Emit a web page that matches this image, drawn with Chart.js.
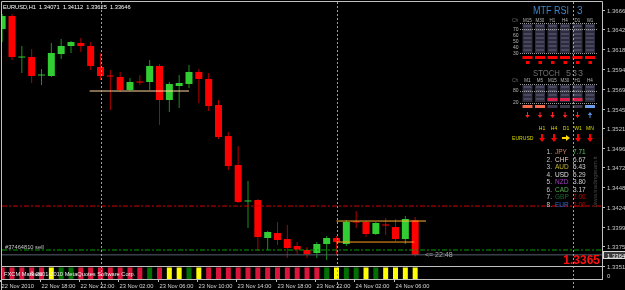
<!DOCTYPE html>
<html>
<head>
<meta charset="utf-8">
<script src="https://cdn.jsdelivr.net/npm/chart.js@4.4.0/dist/chart.umd.min.js"></script>
<style>
  html, body { margin: 0; padding: 0; background: #000; }
  #wrap { position: relative; width: 625px; height: 290px; }
</style>
</head>
<body>
<div id="wrap"><canvas id="chart"></canvas></div>
<script>
// EURUSD H1, bar 0 = 22 Nov 2010 14:00
const opens = [1.36431, 1.36591, 1.36079, 1.36085, 1.35857, 1.35851, 1.36122, 1.36221, 1.36258, 1.36221,
  1.35962, 1.35857, 1.35839, 1.35679, 1.35783, 1.35777, 1.35975, 1.35555, 1.35728, 1.35753,
  1.35901, 1.35814, 1.35494, 1.35111, 1.34754, 1.34304, 1.34322, 1.33854, 1.33915, 1.33841,
  1.33755, 1.33706, 1.33669, 1.33780, 1.33854, 1.33780, 1.34057, 1.34051, 1.33903, 1.34020,
  1.33989, 1.33841, 1.34071];
const highs = [1.36616, 1.36616, 1.36221, 1.36184, 1.35938, 1.36258, 1.36307, 1.36283, 1.36320, 1.36270,
  1.36135, 1.35925, 1.35901, 1.35827, 1.35864, 1.36049, 1.36000, 1.35777, 1.35864, 1.35987,
  1.35938, 1.35888, 1.35555, 1.35161, 1.34988, 1.34557, 1.34335, 1.33940, 1.34051, 1.34014,
  1.33804, 1.33743, 1.33804, 1.33878, 1.33878, 1.34076, 1.34187, 1.34063, 1.34051, 1.34100,
  1.34088, 1.34125, 1.34112];
const lows = [1.36270, 1.36048, 1.35888, 1.35765, 1.35740, 1.35839, 1.36061, 1.36135, 1.36147, 1.35925,
  1.35802, 1.35432, 1.35654, 1.35666, 1.35740, 1.35679, 1.35247, 1.35407, 1.35457, 1.35703,
  1.35518, 1.35420, 1.35074, 1.34692, 1.34285, 1.33977, 1.33693, 1.33706, 1.33767, 1.33607,
  1.33656, 1.33607, 1.33607, 1.33583, 1.33644, 1.33755, 1.33977, 1.33866, 1.33891, 1.33891,
  1.33817, 1.33780, 1.33625];
const closes = [1.36591, 1.36085, 1.36085, 1.35851, 1.35864, 1.36135, 1.36221, 1.36270, 1.36221, 1.35975,
  1.35851, 1.35845, 1.35679, 1.35777, 1.35771, 1.35975, 1.35555, 1.35753, 1.35765, 1.35901,
  1.35814, 1.35481, 1.35099, 1.34741, 1.34298, 1.34316, 1.33866, 1.33928, 1.33829, 1.33730,
  1.33712, 1.33656, 1.33780, 1.33854, 1.33804, 1.34051, 1.34045, 1.33903, 1.34039, 1.34008,
  1.33841, 1.34088, 1.33646];

// bottom strip indicator state per bar: r = bear, y = neutral, g = bull
const stripStates = ['r','r','r','r','r','y','g','g','r','r',
  'r','r','r','r','r','g','r','y','y','g',
  'y','r','r','r','r','r','r','r','r','r',
  'r','r','r','g','y','g','g','y','g','y',
  'y','y','y'];

const priceTicks = ['1.36665','1.36425','1.36180','1.35940','1.35695','1.35450','1.35210',
  '1.34965','1.34725','1.34480','1.34240','1.33995','1.33755','1.33510'];
const timeTickBars = [0, 4, 8, 12, 16, 20, 24, 28, 32, 36, 40];
const timeTickLabels = ['22 Nov 2010','22 Nov 18:00','22 Nov 22:00','23 Nov 02:00','23 Nov 06:00',
  '23 Nov 10:00','23 Nov 14:00','23 Nov 18:00','23 Nov 22:00','24 Nov 02:00','24 Nov 06:00'];
const daySeparators = [10, 34, 58];

const redLevel = 1.34248;
const greenLevel = 1.33706;
const bidPrice = 1.33646;
const oldRange = [8.9, 19, 1.35666];      // from bar, to bar, price
const boxTop = [34, 43.1, 1.34063];
const boxBottom = [34, 41.9, 1.33804];

// MTF panel contents
const rsiFrames = ['M15','M30','H1','H4','D1','W1'];
const rsiLevels = ['70','60','50','40','30'];
const stochFrames = ['M1','M5','M15','M30','H1','H4'];
const stochZone = ['lo','lo','red','red','red','hi'];
const stochArrows = ['d','d','d','d','d','u'];
const trendFrames = ['H1','H4','D1','W1','MN'];
const trendArrows = ['d','d','r','d','d'];
const currencies = ['JPY','CHF','AUD','USD','NZD','CAD','GBP','EUR'];
const strengths = ['7.71','6.67','5.43','5.29','3.80','3.17','2.00','2.00'];

const BULL = '#32cd32', BEAR = '#ff0000';
const BULL_WICK = '#1f8f1f', BEAR_WICK = '#b00000';
const STRIP = { r: '#dc143c', y: '#ffff00', g: '#007000' };
const CURR_COLORS = ['#d8805a','#e6c8c8','#c8b432','#e0e0e0','#a040c0','#50b050','#1f6a2f','#3462c4'];
const VAL_COLORS = ['#5fc85f','#d0d0d0','#d0d0d0','#d0d0d0','#d0d0d0','#d0d0d0','#c00000','#c00000'];
const FONT = '"Liberation Sans", Arial, sans-serif';

const bars = opens.map((_, i) => i);
const bull = i => closes[i] >= opens[i];

function txt(ctx, s, x, y, size, color, o = {}) {
  ctx.save();
  ctx.font = (o.bold ? 'bold ' : '') + size + 'px ' + FONT;
  ctx.fillStyle = color;
  ctx.textAlign = o.align || 'left';
  ctx.textBaseline = 'alphabetic';
  ctx.translate(x, y);
  if (o.rot) ctx.rotate(o.rot);
  ctx.scale(o.sx || 1, 1);
  ctx.fillText(s, 0, 0);
  ctx.restore();
}

function arrow(ctx, x, y, dir, color, len, head, lw) {
  ctx.save();
  ctx.strokeStyle = color;
  ctx.fillStyle = color;
  ctx.lineWidth = lw;
  ctx.translate(x, y);
  ctx.rotate({ d: Math.PI / 2, u: -Math.PI / 2, r: 0 }[dir]);
  ctx.beginPath();
  ctx.moveTo(-len / 2, 0);
  ctx.lineTo(len / 2 - head * 0.6, 0);
  ctx.stroke();
  ctx.beginPath();
  ctx.moveTo(len / 2, 0);
  ctx.lineTo(len / 2 - head, -head * 0.75);
  ctx.lineTo(len / 2 - head, head * 0.75);
  ctx.closePath();
  ctx.fill();
  ctx.restore();
}

function dotted(ctx, x1, x2, y, color) {
  ctx.save();
  ctx.strokeStyle = color;
  ctx.setLineDash([1, 1]);
  ctx.lineWidth = 1;
  ctx.beginPath();
  ctx.moveTo(x1, y + 0.5);
  ctx.lineTo(x2, y + 0.5);
  ctx.stroke();
  ctx.restore();
}

function drawCells(ctx, x, y1, y2) {
  ctx.fillStyle = '#2c2c3e';
  ctx.fillRect(x - 5, y1, 10, y2 - y1);
  ctx.fillStyle = '#47475e';
  for (let y = y1 + 1; y < y2 - 1; y += 4) ctx.fillRect(x - 4, y, 8, 2);
}

function drawPanel(ctx) {
  const colX = k => 527.5 + k * 12.5;
  const hdr = '#b8b8b8';

  // MTF RSI block
  txt(ctx, 'MTF RSI', 533, 14, 10, '#3f84c8', { sx: 0.9 });
  txt(ctx, '3', 577, 14, 10, '#3f84c8');
  txt(ctx, 'Ch', 512, 21.5, 5, '#666');
  rsiFrames.forEach((f, k) => txt(ctx, f, colX(k), 21.5, 5, hdr, { align: 'center', sx: 0.9 }));
  rsiFrames.forEach((f, k) => drawCells(ctx, colX(k), 24, 53));
  rsiLevels.forEach((l, k) => txt(ctx, l, 513, 31 + k * 6, 5, hdr));
  dotted(ctx, 520, 597, 23, '#9a9a9a');
  dotted(ctx, 520, 597, 29, '#9a9a9a');
  dotted(ctx, 520, 597, 53, '#9a9a9a');
  rsiFrames.forEach((f, k) => {
    ctx.fillStyle = '#ff0000';
    ctx.fillRect(colX(k) - 5, 56, 10, 3);
    ctx.fillRect(colX(k) - 1.5, 61, 3.5, 3);
  });

  // STOCH block
  txt(ctx, 'STOCH', 533, 75.5, 9, '#6e6e6e', { sx: 0.86 });
  txt(ctx, '5', 566, 75.5, 9, '#6e6e6e');
  txt(ctx, '3', 572, 75.5, 9, '#6e6e6e');
  txt(ctx, '3', 578, 75.5, 9, '#6e6e6e');
  txt(ctx, 'Ch', 512, 82, 5, '#666');
  stochFrames.forEach((f, k) => txt(ctx, f, colX(k), 82, 5, hdr, { align: 'center', sx: 0.9 }));
  stochFrames.forEach((f, k) => drawCells(ctx, colX(k), 85, 102));
  txt(ctx, '80', 513, 92, 5, hdr);
  txt(ctx, '20', 513, 104, 5, hdr);
  dotted(ctx, 520, 597, 84, '#9a9a9a');
  dotted(ctx, 520, 597, 91, '#9a9a9a');
  dotted(ctx, 520, 597, 103, '#9a9a9a');
  stochZone.forEach((z, k) => {
    if (z === 'red') {
      ctx.fillStyle = '#e0204a';
      ctx.fillRect(colX(k) - 5, 98, 10, 3);
    }
    ctx.fillStyle = z === 'lo' ? '#f06a50' : z === 'hi' ? '#6b9ce8' : '#3a3a4c';
    ctx.fillRect(colX(k) - 5, 105, 10, 3);
    arrow(ctx, colX(k), 115, stochArrows[k], stochArrows[k] === 'u' ? '#5a8ee0' : '#ff2020', 6, 3, 1);
  });

  // trend block
  trendFrames.forEach((f, k) => {
    const x = 542 + k * 12;
    txt(ctx, f, x, 130, 6, '#d8d800', { align: 'center', sx: 0.85 });
    arrow(ctx, x, 138, trendArrows[k], trendArrows[k] === 'r' ? '#ffd800' : '#ff0000', 8, 4, 2);
  });
  txt(ctx, 'EURUSD', 512, 140, 6, '#d8d800', { sx: 0.85 });

  // currency strength list
  currencies.forEach((c, k) => {
    const y = 154 + k * 7.5;
    txt(ctx, (k + 1) + '.', 552, y, 6.5, '#c8c8c8', { align: 'right' });
    txt(ctx, c, 555, y, 6.5, CURR_COLORS[k]);
    txt(ctx, strengths[k], 573, y, 6.5, VAL_COLORS[k]);
  });
  txt(ctx, 'www.tradingteam.it', 597, 207, 6, '#4a4a4a', { rot: -Math.PI / 2 });
}

const decor = {
  id: 'decor',
  beforeDraw(chart) {
    const ctx = chart.ctx;
    ctx.save();
    ctx.fillStyle = '#000';
    ctx.fillRect(0, 0, chart.width, chart.height);
    ctx.restore();
  },
  afterDatasetsDraw(chart) {
    const ctx = chart.ctx;
    const xs = chart.scales.x, ys = chart.scales.y;
    ctx.save();

    drawPanel(ctx);

    // day separators
    ctx.strokeStyle = '#a0a0a0';
    ctx.lineWidth = 1;
    ctx.setLineDash([2, 2]);
    daySeparators.forEach(b => {
      const x = Math.round(xs.getPixelForValue(b)) + 0.5;
      ctx.beginPath();
      ctx.moveTo(x, 2);
      ctx.lineTo(x, 290);
      ctx.stroke();
    });
    ctx.setLineDash([]);

    // window frames
    ctx.strokeStyle = '#c0c0c0';
    ctx.beginPath();
    ctx.moveTo(1.5, 290); ctx.lineTo(1.5, 1.5); ctx.lineTo(602.5, 1.5); ctx.lineTo(602.5, 280);
    ctx.moveTo(1.5, 266.5); ctx.lineTo(602.5, 266.5);
    ctx.moveTo(1.5, 279.5); ctx.lineTo(602.5, 279.5);
    ctx.stroke();

    // price axis
    ctx.strokeStyle = '#c0c0c0';
    priceTicks.forEach(t => {
      const y = Math.round(ys.getPixelForValue(parseFloat(t))) + 0.5;
      ctx.beginPath(); ctx.moveTo(603, y); ctx.lineTo(605, y); ctx.stroke();
      txt(ctx, t, 607, y + 2.5, 6, '#c8c8c8');
    });
    const by = Math.round(ys.getPixelForValue(bidPrice));
    ctx.fillStyle = '#3a3a3a';
    ctx.fillRect(603, by - 4, 22, 8);
    ctx.strokeStyle = '#d8d8d8';
    ctx.strokeRect(603.5, by - 3.5, 22, 7);
    txt(ctx, bidPrice.toFixed(5), 607, by + 2.5, 6, '#ffffff');
    txt(ctx, '0', 607, 278, 6, '#c8c8c8');

    // time axis
    timeTickBars.forEach((b, k) => {
      const x = Math.round(xs.getPixelForValue(b)) - 1.5;
      ctx.strokeStyle = '#c0c0c0';
      ctx.beginPath(); ctx.moveTo(x, 280); ctx.lineTo(x, 282); ctx.stroke();
      txt(ctx, timeTickLabels[k], x + 1, 288, 6, '#d8d8d8', { sx: 0.95 });
    });

    // texts on chart
    txt(ctx, 'EURUSD,H1  1.34071  1.34112  1.33625  1.33646', 3, 8.5, 6, '#ffffff', { sx: 0.95 });
    txt(ctx, '#37464810 sell', 5, 249, 6, '#c8c8c8', { sx: 0.95 });
    txt(ctx, '<= 22:48', 425, 257, 7, '#a8a8a8');
    txt(ctx, '1.3365', 600, 264, 12, '#ff1010', { bold: true, align: 'right' });
    txt(ctx, 'FXCM Markets', 4, 276, 6, '#f0f0f0', { sx: 0.95 });
    txt(ctx, '\u00a9 2001-2010 MetaQuotes Software Corp.', 30, 276, 6, '#f0f0f0', { sx: 0.95 });

    ctx.restore();
  }
};

function hline(from, to, price, color, dash) {
  return {
    type: 'line',
    data: [{ x: from, y: price }, { x: to, y: price }],
    borderColor: color,
    borderWidth: 1,
    borderDash: dash || [],
    pointRadius: 0,
    order: 0
  };
}

const X_MIN = -0.017, X_MAX = 61.0;

new Chart(document.getElementById('chart'), {
  type: 'bar',
  data: {
    datasets: [
      {
        label: 'bodies',
        data: bars.map(i => ({ x: i, y: [opens[i], closes[i]] })),
        backgroundColor: bars.map(i => bull(i) ? BULL : BEAR),
        barThickness: 7,
        minBarLength: 1,
        inflateAmount: 0,
        grouped: false,
        order: 1
      },
      {
        label: 'wicks',
        data: bars.map(i => ({ x: i, y: [lows[i], highs[i]] })),
        backgroundColor: bars.map(i => bull(i) ? BULL_WICK : BEAR_WICK),
        barThickness: 1,
        inflateAmount: 0,
        grouped: false,
        order: 2
      },
      {
        label: 'strip',
        yAxisID: 'yStrip',
        data: bars.map(i => ({ x: i, y: [1, 12.5] })),
        backgroundColor: stripStates.map(s => STRIP[s]),
        barThickness: 5,
        inflateAmount: 0,
        grouped: false,
        order: 3
      },
      hline(X_MIN, X_MAX, redLevel, '#d00000', [5, 2, 2, 2]),
      hline(X_MIN, X_MAX, greenLevel, '#00a000', [5, 2, 2, 2]),
      hline(X_MIN, X_MAX, bidPrice, '#56606e'),
      hline(oldRange[0], oldRange[1], oldRange[2], '#ffd7a0'),
      hline(boxTop[0], boxTop[1], boxTop[2], '#ffb030'),
      hline(boxBottom[0], boxBottom[1], boxBottom[2], '#ffa020')
    ]
  },
  options: {
    responsive: true,
    maintainAspectRatio: false,
    animation: false,
    events: [],
    layout: { padding: { left: 2, top: 2, right: 23, bottom: 10 } },
    plugins: { legend: { display: false }, tooltip: { enabled: false } },
    scales: {
      // offset false: the bar default would pad a linear index axis
      x: { type: 'linear', min: X_MIN, max: X_MAX, offset: false, bounds: 'data', grace: 0, display: false },
      y: { type: 'linear', min: 1.33336, max: 1.367636, display: false },
      yStrip: { type: 'linear', min: 0, max: 278, display: false }
    }
  },
  plugins: [decor]
});
</script>
</body>
</html>
